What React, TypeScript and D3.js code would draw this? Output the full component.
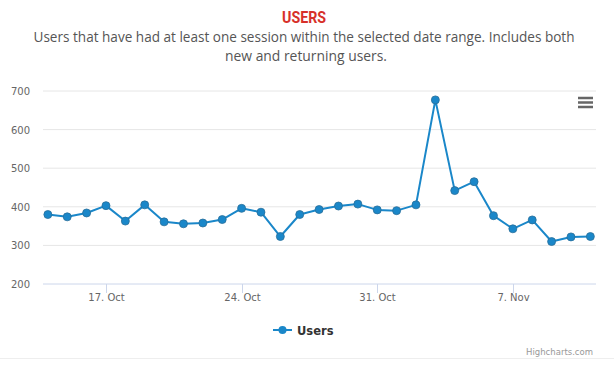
import React from "react";
import * as d3 from "d3";

// daily users, 14 Oct - 11 Nov
const days = [
  "2016-10-14", "2016-10-15", "2016-10-16", "2016-10-17", "2016-10-18", "2016-10-19",
  "2016-10-20", "2016-10-21", "2016-10-22", "2016-10-23", "2016-10-24", "2016-10-25",
  "2016-10-26", "2016-10-27", "2016-10-28", "2016-10-29", "2016-10-30", "2016-10-31",
  "2016-11-01", "2016-11-02", "2016-11-03", "2016-11-04", "2016-11-05", "2016-11-06",
  "2016-11-07", "2016-11-08", "2016-11-09", "2016-11-10", "2016-11-11",
];
const users = [
  380, 374, 384, 403, 363, 405, 361, 356, 358, 367, 396, 386, 323, 380, 393,
  402, 407, 392, 390, 405, 677, 442, 465, 377, 343, 366, 310, 322, 323,
];
const yTicks = [200, 300, 400, 500, 600, 700];
const xTicks = ["2016-10-17", "2016-10-24", "2016-10-31", "2016-11-07"];

const W = 614;
const H = 366;
const plot = { left: 43, right: 596, top: 91, bottom: 284 };
const blue = "#1a87c9";
const parse = d3.timeParse("%Y-%m-%d");
const fmt = d3.timeFormat("%-d. %b");

export default function App() {
  const dates = days.map((d) => parse(d) as Date);
  const x = d3
    .scaleTime()
    .domain([d3.timeHour.offset(dates[0], -6), d3.timeHour.offset(dates[dates.length - 1], 7)])
    .range([plot.left, plot.right]);
  const y = d3.scaleLinear().domain([200, 700]).range([plot.bottom, plot.top]);

  const line = d3
    .line<number>()
    .x((_, i) => x(dates[i]))
    .y((d) => y(d));

  return (
    <svg
      width={W}
      height={H}
      style={{ position: "absolute", left: 0, top: 0, background: "#fff" }}
    >
      {/* title */}
      <text
        x={304}
        y={23}
        textAnchor="middle"
        fill="#d7302a"
        fontFamily="Roboto, sans-serif"
        fontWeight="bold"
        fontSize={16}
        textLength={44}
        lengthAdjust="spacingAndGlyphs"
      >
        USERS
      </text>
      <text
        x={304}
        y={42}
        textAnchor="middle"
        fill="#555"
        fontFamily="'Open Sans', sans-serif"
        fontSize={14}
        textLength={541}
        lengthAdjust="spacingAndGlyphs"
      >
        Users that have had at least one session within the selected date range. Includes both
      </text>
      <text
        x={306}
        y={61}
        textAnchor="middle"
        fill="#555"
        fontFamily="'Open Sans', sans-serif"
        fontSize={14}
        textLength={162}
        lengthAdjust="spacingAndGlyphs"
      >
        new and returning users.
      </text>

      {/* grid + y labels */}
      {yTicks.map((t) => (
        <g key={t}>
          {t !== 200 && (
            <line x1={plot.left} x2={plot.right} y1={y(t)} y2={y(t)} stroke="#e6e6e6" />
          )}
          <text
            x={30}
            y={y(t) + 4}
            textAnchor="end"
            fill="#666"
            fontFamily="'DejaVu Sans', sans-serif"
            fontSize={10}
          >
            {t}
          </text>
        </g>
      ))}

      {/* x axis */}
      <line x1={plot.left} x2={plot.right} y1={plot.bottom} y2={plot.bottom} stroke="#ccd6eb" />
      {xTicks.map((t) => {
        const xx = Math.round(x(parse(t) as Date)) + 0.5;
        return (
          <g key={t}>
            <line x1={xx} x2={xx} y1={plot.bottom} y2={plot.bottom + 9} stroke="#ccd6eb" />
            <text
              x={xx}
              y={plot.bottom + 17}
              textAnchor="middle"
              fill="#666"
              fontFamily="'DejaVu Sans', sans-serif"
              fontSize={10}
            >
              {fmt(parse(t) as Date)}
            </text>
          </g>
        );
      })}

      {/* series */}
      <path d={line(users) || ""} fill="none" stroke={blue} strokeWidth={2} strokeLinejoin="round" />
      {users.map((v, i) => (
        <circle key={i} cx={x(dates[i])} cy={y(v)} r={4} fill={blue} stroke="#2a6e99" strokeWidth={0.8} />
      ))}

      {/* menu icon */}
      {[98, 102.5, 107].map((yy) => (
        <line key={yy} x1={578} x2={593} y1={yy} y2={yy} stroke="#666" strokeWidth={2.5} />
      ))}

      {/* legend */}
      <line x1={273} x2={292} y1={330} y2={330} stroke={blue} strokeWidth={2} />
      <circle cx={282.5} cy={330} r={4} fill={blue} />
      <text
        x={297}
        y={334.5}
        fill="#333"
        fontFamily="'DejaVu Sans', sans-serif"
        fontWeight="bold"
        fontSize={11.5}
      >
        Users
      </text>

      {/* credits */}
      <text
        x={593}
        y={355}
        textAnchor="end"
        fill="#999"
        fontFamily="'DejaVu Sans', sans-serif"
        fontSize={8.5}
      >
        Highcharts.com
      </text>
      <line x1={0} x2={W} y1={358.5} y2={358.5} stroke="#eee" />
    </svg>
  );
}
